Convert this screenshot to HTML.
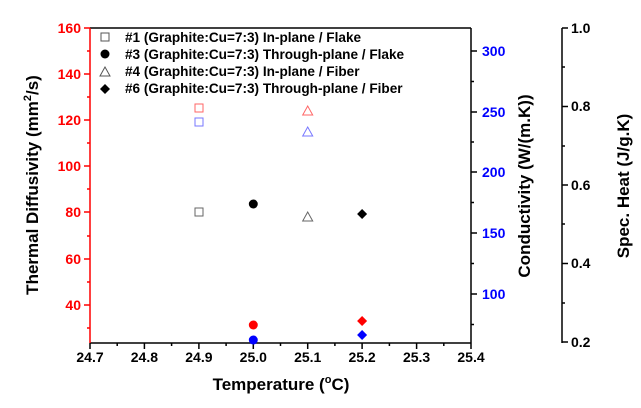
<!DOCTYPE html>
<html><head><meta charset="utf-8"><style>body{margin:0;background:#fff}svg{display:block}text{font-family:"Liberation Sans",Arial,sans-serif;font-weight:bold}</style></head><body>
<svg width="641" height="408" viewBox="0 0 641 408" xmlns="http://www.w3.org/2000/svg">
<rect width="641" height="408" fill="#fff"/>
<line x1="90" y1="28" x2="471" y2="28" stroke="#000" stroke-width="1.5"/>
<line x1="471" y1="28" x2="471" y2="343" stroke="#000" stroke-width="1.5"/>
<line x1="90" y1="343" x2="471" y2="343" stroke="#000" stroke-width="1.5"/>
<line x1="90" y1="28" x2="90" y2="343" stroke="#f00" stroke-width="1.5"/>
<g stroke="#f00" stroke-width="1.5">
<line x1="84" y1="28" x2="90" y2="28"/><line x1="84" y1="74" x2="90" y2="74"/><line x1="84" y1="120" x2="90" y2="120"/><line x1="84" y1="166" x2="90" y2="166"/><line x1="84" y1="212" x2="90" y2="212"/><line x1="84" y1="259" x2="90" y2="259"/><line x1="84" y1="305" x2="90" y2="305"/>
<line x1="87" y1="51" x2="90" y2="51"/><line x1="87" y1="97" x2="90" y2="97"/><line x1="87" y1="143" x2="90" y2="143"/><line x1="87" y1="189" x2="90" y2="189"/><line x1="87" y1="236" x2="90" y2="236"/><line x1="87" y1="282" x2="90" y2="282"/><line x1="87" y1="328" x2="90" y2="328"/>
</g>
<g fill="#f00" font-size="14" text-anchor="end">
<text x="81" y="33">160</text><text x="81" y="79">140</text><text x="81" y="125">120</text><text x="81" y="171">100</text><text x="81" y="217">80</text><text x="81" y="264">60</text><text x="81" y="310">40</text>
</g>
<g stroke="#000" stroke-width="1.5">
<line x1="90" y1="343" x2="90" y2="349"/><line x1="144.4" y1="343" x2="144.4" y2="349"/><line x1="198.9" y1="343" x2="198.9" y2="349"/><line x1="253.3" y1="343" x2="253.3" y2="349"/><line x1="307.7" y1="343" x2="307.7" y2="349"/><line x1="362.1" y1="343" x2="362.1" y2="349"/><line x1="416.6" y1="343" x2="416.6" y2="349"/><line x1="471" y1="343" x2="471" y2="349"/>
<line x1="117.2" y1="343" x2="117.2" y2="346"/><line x1="171.6" y1="343" x2="171.6" y2="346"/><line x1="226.1" y1="343" x2="226.1" y2="346"/><line x1="280.5" y1="343" x2="280.5" y2="346"/><line x1="334.9" y1="343" x2="334.9" y2="346"/><line x1="389.4" y1="343" x2="389.4" y2="346"/><line x1="443.8" y1="343" x2="443.8" y2="346"/>
</g>
<g fill="#000" font-size="14" text-anchor="middle">
<text x="90" y="362">24.7</text><text x="144.4" y="362">24.8</text><text x="198.9" y="362">24.9</text><text x="253.3" y="362">25.0</text><text x="307.7" y="362">25.1</text><text x="362.1" y="362">25.2</text><text x="416.6" y="362">25.3</text><text x="471" y="362">25.4</text>
</g>
<text x="281" y="390" font-size="17" text-anchor="middle">Temperature (<tspan font-size="11" dy="-7">o</tspan><tspan dy="7">C)</tspan></text>
<text transform="translate(38,185) rotate(-90)" font-size="17" text-anchor="middle">Thermal Diffusivity (mm<tspan font-size="11" dy="-7">2</tspan><tspan dy="7">/s)</tspan></text>
<g stroke="#000" stroke-width="1.5">
<line x1="471" y1="51" x2="477" y2="51"/><line x1="471" y1="112" x2="477" y2="112"/><line x1="471" y1="172" x2="477" y2="172"/><line x1="471" y1="233" x2="477" y2="233"/><line x1="471" y1="294" x2="477" y2="294"/>
<line x1="471" y1="81.5" x2="474" y2="81.5"/><line x1="471" y1="142" x2="474" y2="142"/><line x1="471" y1="202.5" x2="474" y2="202.5"/><line x1="471" y1="263.5" x2="474" y2="263.5"/><line x1="471" y1="324.5" x2="474" y2="324.5"/>
</g>
<g fill="#00f" font-size="14">
<text x="482" y="56">300</text><text x="482" y="117">250</text><text x="482" y="177">200</text><text x="482" y="238">150</text><text x="482" y="299">100</text>
</g>
<text transform="translate(530,186) rotate(-90)" font-size="17" text-anchor="middle">Conductivity (W/(m.K))</text>
<g stroke="#000" stroke-width="1.5">
<line x1="562" y1="28" x2="562" y2="343"/>
<line x1="562" y1="28" x2="568" y2="28"/><line x1="562" y1="106.5" x2="568" y2="106.5"/><line x1="562" y1="185" x2="568" y2="185"/><line x1="562" y1="263.5" x2="568" y2="263.5"/><line x1="562" y1="342" x2="568" y2="342"/>
<line x1="562" y1="67" x2="565" y2="67"/><line x1="562" y1="146" x2="565" y2="146"/><line x1="562" y1="224" x2="565" y2="224"/><line x1="562" y1="303" x2="565" y2="303"/>
</g>
<g fill="#000" font-size="14">
<text x="571" y="33">1.0</text><text x="571" y="111">0.8</text><text x="571" y="190">0.6</text><text x="571" y="268">0.4</text><text x="571" y="347">0.2</text>
</g>
<text transform="translate(629,186) rotate(-90)" font-size="17" text-anchor="middle">Spec. Heat (J/g.K)</text>
<rect x="101" y="33" width="8" height="8" fill="none" stroke="#555" stroke-width="1"/>
<circle cx="105" cy="54" r="4.5" fill="#000"/>
<polygon points="105,67 100,76 110,76" fill="none" stroke="#555" stroke-width="1"/>
<polygon points="105,84 110,89 105,94 100,89" fill="#000"/>
<g fill="#000" font-size="13.6">
<text x="125" y="42">#1 (Graphite:Cu=7:3) In-plane / Flake</text>
<text x="125" y="59">#3 (Graphite:Cu=7:3) Through-plane / Flake</text>
<text x="125" y="76">#4 (Graphite:Cu=7:3) In-plane / Fiber</text>
<text x="125" y="93">#6 (Graphite:Cu=7:3) Through-plane / Fiber</text>
</g>
<rect x="195" y="104" width="8" height="8" fill="none" stroke="#f66" stroke-width="1"/>
<rect x="195" y="118" width="8" height="8" fill="none" stroke="#77f" stroke-width="1"/>
<rect x="195" y="208" width="8" height="8" fill="none" stroke="#666" stroke-width="1"/>
<polygon points="307.7,106 302.7,115 312.7,115" fill="none" stroke="#f66" stroke-width="1"/>
<polygon points="307.7,127 302.7,136 312.7,136" fill="none" stroke="#77f" stroke-width="1"/>
<polygon points="307.7,212 302.7,221 312.7,221" fill="none" stroke="#666" stroke-width="1"/>
<circle cx="253.3" cy="204" r="4.5" fill="#000"/>
<circle cx="253.3" cy="325" r="4.5" fill="#f00"/>
<circle cx="253.3" cy="340" r="4.5" fill="#00f"/>
<polygon points="362.1,209 367.1,214 362.1,219 357.1,214" fill="#000"/>
<polygon points="362.1,316 367.1,321 362.1,326 357.1,321" fill="#f00"/>
<polygon points="362.1,330 367.1,335 362.1,340 357.1,335" fill="#00f"/>
</svg>
</body></html>
